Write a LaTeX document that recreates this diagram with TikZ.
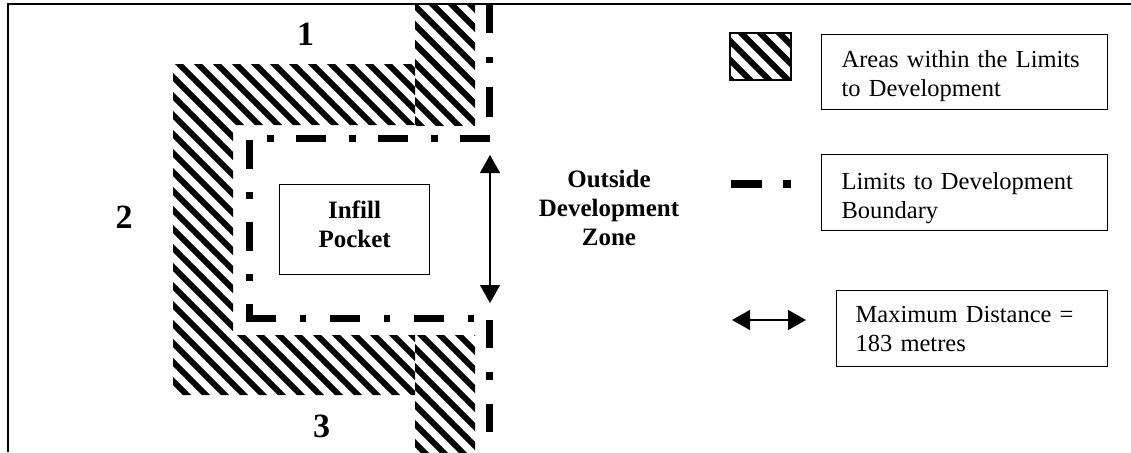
\documentclass[tikz,border=0pt]{standalone}
\usepackage{fontspec}
\setmainfont{Liberation Serif}
\usetikzlibrary{arrows.meta}
\tikzset{
  hatchline/.style={line width=6pt},
  limitline/.style={line width=7pt},
  legendbox/.style={draw, line width=1.2pt, inner xsep=20pt, inner ysep=0pt, align=left, anchor=north west, font=\fontsize{24.5}{29.3}\selectfont},
  numlabel/.style={font=\fontsize{34}{40}\selectfont\bfseries, inner sep=0pt, anchor=base},
  boldtext/.style={font=\fontsize{25}{29}\selectfont\bfseries, inner sep=0pt, align=center},
  dimarrow/.style={line width=1.2pt, {Triangle[length=18pt,width=20pt]}-{Triangle[length=18pt,width=20pt]}},
}
\newcommand\hatchfill[2]{%
  \begin{scope}
    \clip #1;
    \foreach \k in {-25,...,45} \draw[hatchline] ({#2+\k*19},0) -- ++(500,500);
  \end{scope}}
\begin{document}
\begin{tikzpicture}[x=1pt,y=-1pt]
\useasboundingbox (0,0) rectangle (1131,452);
% frame
\draw[line width=2.3pt] (8.3,452) -- (8.3,4) -- (1131,4);
% hatched areas
\hatchfill{(173,64) -- (415,64) -- (415,125) -- (233,125) -- (233,335) -- (415,335) -- (415,395) -- (173,395) -- cycle}{1}
\hatchfill{(415,5) rectangle (475,125)}{10}
\hatchfill{(415,335) rectangle (475,452)}{10}
% limits to development boundary
\draw[limitline, dash pattern=on 30pt off 22.5pt on 7pt off 22.5pt] (490,138.5) -- (245.5,138.5);
\draw[limitline, dash pattern=on 29pt off 23pt on 7pt off 23pt] (249,140) -- (249,321.5);
\draw[limitline, dash pattern=on 30pt off 24pt on 6pt off 24pt] (245.5,318) -- (475,318);
\draw[limitline, dash pattern=on 30pt off 24pt on 6pt off 24pt] (489.5,3) -- (489.5,125);
\draw[limitline, dash pattern=on 28pt off 24pt on 8pt off 24pt] (489.5,320) -- (489.5,452);
% infill pocket
\node[draw, line width=1.2pt, boldtext, anchor=north west, text width=150pt] (pocket) at (279,184)
  {\rule{0pt}{34pt}Infill\\Pocket\rule[-27pt]{0pt}{27pt}};
% maximum distance arrow
\coordinate (dtop) at (490,155);
\coordinate (dbot) at (490,303);
\draw[dimarrow] (dtop) -- (dbot);
% labels
\node[numlabel] (n1) at (305.5,45.3) {1};
\node[numlabel] (n2) at (124,228.3) {2};
\node[numlabel] (n3) at (321.5,437) {3};
\node[boldtext, anchor=base, text width=200pt] (outside) at (609,187) {Outside\\Development\\Zone};
% legend
\hatchfill{(730,33) rectangle (791,80)}{5}
\draw[line width=1.5pt] (730,33) rectangle (791,80);
\node[legendbox, text width=246pt] (lg1) at (821,34)
  {\rule{0pt}{32.7pt}Areas within the Limits\\to Development\rule[-13pt]{0pt}{13pt}};
\draw[line width=8pt, dash pattern=on 31pt off 21pt on 8pt off 30pt] (731,184) -- (791,184);
\node[legendbox, text width=246pt] (lg2) at (821,154)
  {\rule{0pt}{35pt}Limits to Development\\Boundary\rule[-11.7pt]{0pt}{11.7pt}};
\coordinate (la) at (732,320);
\coordinate (lb) at (806,320);
\draw[dimarrow] (la) -- (lb);
\node[legendbox, inner xsep=19pt, text width=233pt] (lg3) at (836,290)
  {\rule{0pt}{32pt}Maximum Distance =\\183 metres\rule[-14.7pt]{0pt}{14.7pt}};
\end{tikzpicture}
\end{document}
